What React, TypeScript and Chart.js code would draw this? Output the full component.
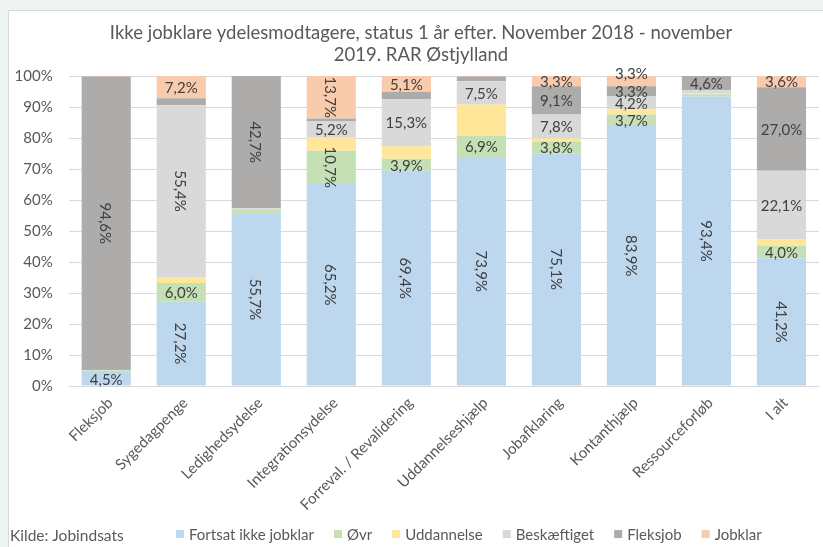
import React, { useEffect, useRef } from 'react';
import { Chart, registerables } from 'chart.js';

Chart.register(...registerables);

const FONT = 'Lato';

const titleLines = ['Ikke jobklare ydelesmodtagere, status 1 år efter. November 2018 - november', '2019. RAR Østjylland'];
const sourceText = 'Kilde: Jobindsats';

const categories = [
  'Fleksjob',
  'Sygedagpenge',
  'Ledighedsydelse',
  'Integrationsydelse',
  'Forreval. / Revalidering',
  'Uddannelseshjælp',
  'Jobafklaring',
  'Kontanthjælp',
  'Ressourceforløb',
  'I alt',
];

const seriesNames = ['Fortsat ikke jobklar', 'Øvr', 'Uddannelse', 'Beskæftiget', 'Fleksjob', 'Jobklar'];

const fortsatIkkeJobklar = [4.5, 27.2, 55.7, 65.2, 69.4, 73.9, 75.1, 83.9, 93.4, 41.2];
const oevr = [0.5, 6.0, 1.3, 10.7, 3.9, 6.9, 3.8, 3.7, 0.7, 4.0];
const uddannelse = [0, 2.0, 0, 4.2, 4.0, 10.0, 0.9, 1.6, 0.4, 2.1];
const beskaeftiget = [0.2, 55.4, 0.3, 5.2, 15.3, 7.5, 7.8, 4.2, 0.9, 22.1];
const fleksjob = [94.6, 2.2, 42.7, 1.0, 2.3, 1.5, 9.1, 3.3, 4.6, 27.0];
const jobklar = [0.2, 7.2, 0, 13.7, 5.1, 0.2, 3.3, 3.3, 0, 3.6];

const yTicks = [0, 10, 20, 30, 40, 50, 60, 70, 80, 90, 100];

const COLORS = ['#bdd7ee', '#c5e0b4', '#ffe699', '#d9d9d9', '#aeabab', '#f8cbad'];

// label display settings (style only)
const LABELED = [true, true, false, true, true, true];
const MIN_LABEL = 3;
const VERTICAL = new Set([
  '0:1', '0:2', '0:3', '0:4', '0:5', '0:6', '0:7', '0:8', '0:9',
  '1:3', '3:1', '4:0', '4:2', '5:3',
]);
const OFFSETS: Record<string, number> = { '5:7': -8 };

const fmt = (v: number) => v.toFixed(1).replace('.', ',') + '%';

const labelPlugin = {
  id: 'segLabels',
  afterDatasetsDraw(chart: any) {
    const ctx = chart.ctx;
    ctx.save();
    ctx.font = `15px ${FONT}`;
    ctx.fillStyle = '#404040';
    ctx.textAlign = 'center';
    ctx.textBaseline = 'middle';
    chart.data.datasets.forEach((ds: any, di: number) => {
      if (!LABELED[di]) return;
      const meta = chart.getDatasetMeta(di);
      meta.data.forEach((bar: any, i: number) => {
        const v = ds.data[i];
        if (v < MIN_LABEL) return;
        const { x, y, base } = bar.getProps(['x', 'y', 'base'], true);
        const key = `${di}:${i}`;
        const cy = (y + base) / 2 + (OFFSETS[key] || 0);
        const text = fmt(v);
        if (VERTICAL.has(key)) {
          ctx.save();
          ctx.translate(x, cy);
          ctx.rotate(Math.PI / 2);
          ctx.fillText(text, 0, 1);
          ctx.restore();
        } else {
          ctx.fillText(text, x, cy + 1);
        }
      });
    });
    ctx.restore();
  },
};

const decorPlugin = {
  id: 'decor',
  afterDraw(chart: any) {
    const ctx = chart.ctx;
    ctx.save();
    // title
    ctx.fillStyle = '#595959';
    ctx.font = `18.5px ${FONT}`;
    ctx.textAlign = 'center';
    ctx.textBaseline = 'alphabetic';
    ctx.fillText(titleLines[0], 421, 39);
    ctx.fillText(titleLines[1], 421, 61);
    // source
    ctx.textAlign = 'left';
    ctx.font = `15.5px ${FONT}`;
    ctx.fillText(sourceText, 10, 541);
    // legend
    ctx.font = `15px ${FONT}`;
    let x = 176;
    const cy = 534;
    chart.data.datasets.forEach((ds: any) => {
      ctx.fillStyle = ds.backgroundColor;
      ctx.fillRect(x, cy - 4, 8, 8);
      ctx.fillStyle = '#595959';
      ctx.fillText(ds.label, x + 13, 540);
      x += 13 + ctx.measureText(ds.label).width + 20;
    });
    ctx.restore();
  },
};

export default function App() {
  const ref = useRef<HTMLCanvasElement>(null);
  useEffect(() => {
    document.body.style.margin = '0';
    const canvas = ref.current!;
    const seriesData = [fortsatIkkeJobklar, oevr, uddannelse, beskaeftiget, fleksjob, jobklar];
    const chart = new Chart(canvas, {
      type: 'bar',
      data: {
        labels: categories,
        datasets: seriesNames.map((name, i) => ({
          label: name,
          data: seriesData[i],
          backgroundColor: COLORS[i],
          borderWidth: 0,
          barPercentage: 0.655,
          categoryPercentage: 1,
        })),
      },
      options: {
        responsive: false,
        animation: false,
        layout: { padding: { left: 8, right: 4, top: 76, bottom: 0 } },
        plugins: {
          legend: { display: false },
          title: { display: false },
          tooltip: { enabled: false },
        },
        scales: {
          x: {
            stacked: true,
            grid: { display: false },
            border: { display: false },
            ticks: {
              color: '#595959',
              font: { family: FONT, size: 15 },
              maxRotation: 45,
              minRotation: 45,
              autoSkip: false,
              padding: 0,
              labelOffset: 4,
            },
            afterFit: (s: any) => {
              s.height = 161;
            },
          },
          y: {
            stacked: true,
            min: 0,
            max: 100,
            afterBuildTicks: (s: any) => {
              s.ticks = yTicks.map((v) => ({ value: v }));
            },
            ticks: {
              color: '#595959',
              font: { family: FONT, size: 15 },
              padding: 16,
              callback: (v: any) => v + '%',
            },
            grid: { color: '#d9d9d9', drawTicks: false },
            border: { display: false },
            afterFit: (s: any) => {
              s.width = 60.7;
            },
          },
        },
      },
      plugins: [labelPlugin, decorPlugin],
    });
    return () => chart.destroy();
  }, []);
  return (
    <div style={{ position: 'relative', width: 823, height: 547, background: '#eef3f3', overflow: 'hidden' }}>
      <div
        style={{
          position: 'absolute',
          left: 8,
          top: 10,
          width: 840,
          height: 580,
          background: '#ffffff',
          border: '1px solid #d3dbdb',
        }}
      />
      <canvas ref={ref} width={823} height={547} style={{ position: 'absolute', left: 0, top: 0, width: 823, height: 547 }} />
    </div>
  );
}
